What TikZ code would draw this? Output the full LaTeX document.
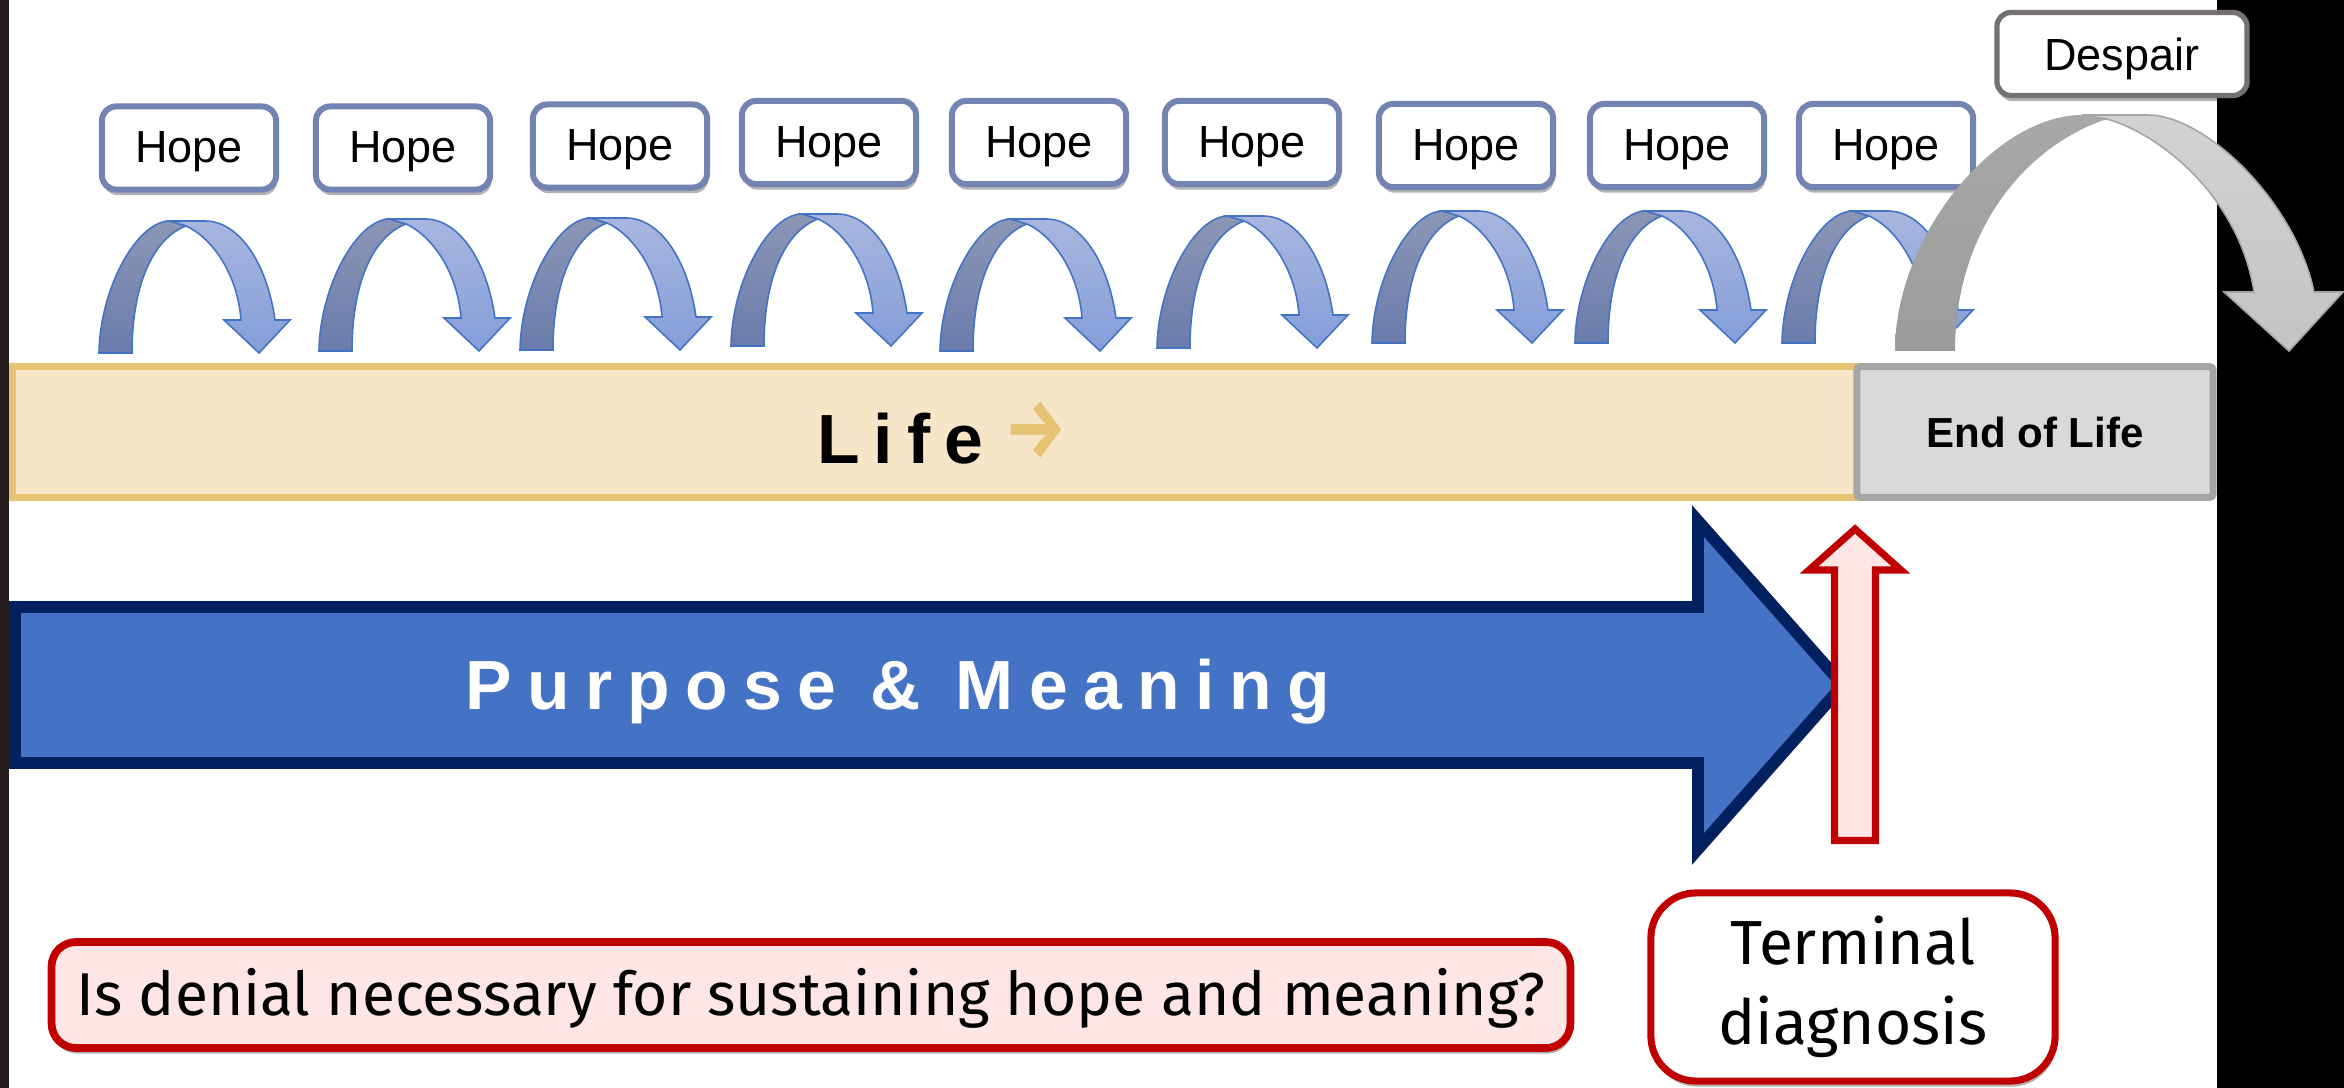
\documentclass[tikz,border=0pt]{standalone}
\usepackage{fontspec}
\setmainfont{Liberation Sans}
\newfontfamily\spacedfont[LetterSpace=20]{Liberation Sans}
\newfontfamily\widefont[LetterSpace=22]{Liberation Sans}
\newfontfamily\questfont{Fira Sans}
\usepackage{xcolor}
\usepackage{graphicx}
\usetikzlibrary{positioning}
\usetikzlibrary{shadows}

\definecolor{hopeline}{RGB}{116,132,178}
\definecolor{arcline}{RGB}{68,114,196}
\definecolor{arcdarktop}{RGB}{140,150,182}
\definecolor{arcdarkbot}{RGB}{106,124,172}
\definecolor{arclighttop}{RGB}{168,182,222}
\definecolor{arclightbot}{RGB}{132,158,218}
\definecolor{grayltop}{RGB}{168,168,168}
\definecolor{graylbot}{RGB}{156,156,156}
\definecolor{grayrtop}{RGB}{210,210,210}
\definecolor{grayrbot}{RGB}{196,196,196}
\definecolor{grayline}{RGB}{165,165,165}
\definecolor{despline}{RGB}{118,113,113}
\definecolor{lifefill}{RGB}{246,230,199}
\definecolor{lifegold}{RGB}{230,194,115}
\definecolor{eolfill}{RGB}{217,217,217}
\definecolor{eolline}{RGB}{166,166,166}
\definecolor{purposefill}{RGB}{68,114,196}
\definecolor{purposeline}{RGB}{0,32,96}
\definecolor{termred}{RGB}{192,0,0}
\definecolor{termpink}{RGB}{255,230,230}
\definecolor{leftstrip}{RGB}{38,30,30}

\begin{document}
\begin{tikzpicture}[
  x = 0.01cm, y = -0.01cm,
  boxshadow/.style = {drop shadow={shadow xshift=0.4pt, shadow yshift=-1.6pt,
                      opacity=0.3, fill=black}},
   hopebox/.style = {draw=hopeline, line width=1.7pt, fill=white,
                     rounded corners=4pt, minimum width=1.74cm,
                     minimum height=0.83cm, inner sep=0pt,
                     text height=0.29cm, text depth=0pt,
                     font=\fontsize{12.8}{15}\selectfont, boxshadow},
   despbox/.style = {hopebox, draw=despline, line width=1.5pt,
                     minimum width=2.50cm, text height=0.32cm},
   lifebar/.style = {draw=lifegold, fill=lifefill, line width=2pt,
                     minimum width=18.44cm, minimum height=1.305cm,
                     inner sep=0pt, text height=0.62cm, text depth=0pt,
                     font=\fontsize{19.8}{24}\spacedfont\bfseries},
    eolbox/.style = {draw=eolline, fill=eolfill, line width=2pt,
                     rounded corners=1pt, minimum width=3.56cm,
                     minimum height=1.305cm, inner sep=0pt,
                     text height=0.30cm, text depth=0pt,
                     font=\fontsize{11.95}{14}\selectfont\bfseries},
   purpose/.style = {draw=purposeline, fill=purposefill, line width=3.4pt},
  purposetxt/.style = {text=white, inner sep=0pt,
                     font=\fontsize{19.8}{24}\widefont\bfseries},
  diagarrow/.style = {draw=termred, fill=termpink, line width=2pt},
  questbox/.style = {draw=termred, fill=termpink, line width=2.2pt,
                     rounded corners=7pt, minimum width=15.18cm,
                     minimum height=1.06cm, inner sep=0pt,
                     text height=0.40cm, text depth=0pt,
                     font=\fontsize{17.2}{20}\questfont, boxshadow},
   termbox/.style = {draw=termred, fill=white, line width=2pt,
                     rounded corners=12.8pt, minimum width=4.04cm,
                     minimum height=1.88cm, inner sep=0pt, align=center,
                     font=\fontsize{17.7}{22.6}\questfont, boxshadow},
  hopearc/.pic = {
    \shadedraw[draw=arcline, line width=0.45pt,
               top color=arcdarktop, bottom color=arcdarkbot]
      (0,0) .. controls (1,-65) and (38,-132) .. (71,-132) -- (87,-127)
      .. controls (55,-115) and (33,-70) .. (33,0) -- cycle;
    \shadedraw[draw=arcline, line width=0.45pt,
               top color=arclighttop, bottom color=arclightbot]
      (71,-132) -- (106,-132) .. controls (140,-132) and (168,-90) .. (176,-33)
      -- (191,-33) -- (160,0) -- (125,-33) -- (142,-33)
      .. controls (138,-85) and (108,-118) .. (87,-127) -- cycle;
  },
  despairarc/.pic = {
    \shade[top color=grayltop, bottom color=graylbot]
      (0,0) .. controls (0,-115) and (100,-236) .. (187,-236) -- (212,-232)
      .. controls (130,-205) and (60,-120) .. (60,0) -- cycle;
    \shadedraw[draw=grayline, line width=0.45pt,
               top color=grayrtop, bottom color=grayrbot]
      (187,-236) -- (253,-236) .. controls (310,-236) and (400,-150) .. (419,-59)
      -- (448,-59) -- (394,0) -- (329,-59) -- (359,-59)
      .. controls (345,-150) and (270,-215) .. (212,-232) -- cycle;
  }
                   ]
\useasboundingbox (0,0) rectangle (2344,1088);
\fill[white] (0,0) rectangle (2344,1088);
\fill[black] (2217,0) rectangle (2344,1088);

% hope arcs and boxes
\foreach \x/\y in {99/353, 319/351, 520/350, 731/346, 940/351,
                   1157/348, 1372/343, 1575/343, 1782/343}
    \pic at (\x,\y) {hopearc};
\foreach \x/\y [count=\j] in {189/148, 403/148, 620/146, 829/142.5, 1039/142.5,
                              1252/142.5, 1466/145.5, 1677/145.5, 1886/145.5}
    \node[hopebox] (hope\j) at (\x,\y) {Hope};

% despair
\pic at (1895,351) {despairarc};
\node[despbox] (despair) at (2122,54) {Despair};

% life line
\node[lifebar] (life) at (935,432)
    {\kern0.14cm Life{\color{lifegold}\questfont\bfseries\kern6pt\raisebox{1.7pt}{\scalebox{1}[1.2]{→}}}};
\node[eolbox] (eol) at (2035,432) {End of Life};

% purpose and meaning
\draw[purpose] (15,607) -- (1698,607) -- (1698,521) -- (1843,685)
    -- (1698,849) -- (1698,763) -- (15,763) -- cycle;
\node[purposetxt, anchor=base] (purposelabel) at (898,709) {Purpose \& Meaning};

% terminal diagnosis
\draw[diagarrow] (1834.5,840.5) -- (1834.5,570) -- (1809,570) -- (1855,529)
    -- (1901,570) -- (1875.5,570) -- (1875.5,840.5) -- cycle;
\node[termbox] (term) at (1853,987) {Terminal\\diagnosis};

\node[questbox] (quest) at (811,995)
    {Is denial necessary for sustaining hope and meaning?};

\fill[leftstrip] (0,0) rectangle (9,1088);
\end{tikzpicture}
\end{document}
